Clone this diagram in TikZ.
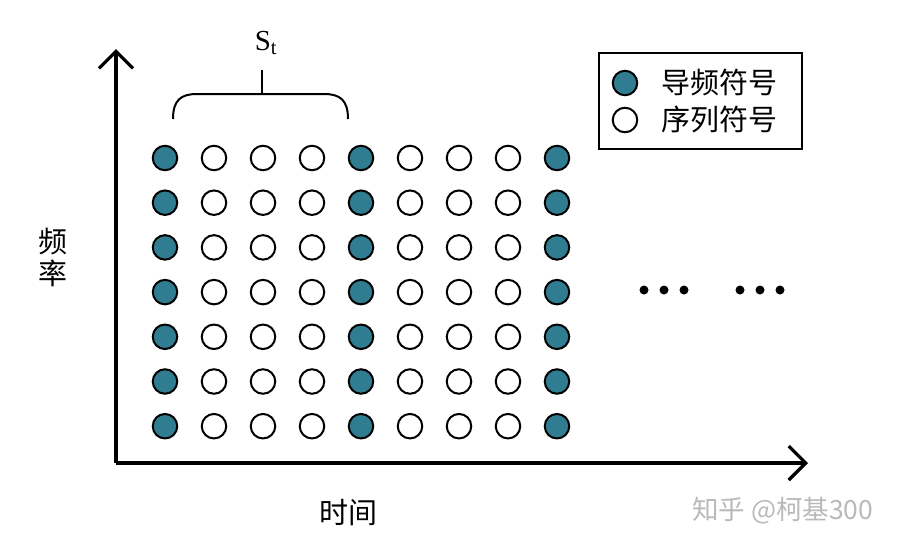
\documentclass[tikz,border=0pt]{standalone}
\usepackage{fontspec}
\setmainfont{Liberation Serif}
\newfontfamily\cjk{Noto Sans CJK SC}
\usetikzlibrary{arrows.meta}
\definecolor{pilot}{RGB}{48,125,145}
\definecolor{wm}{RGB}{185,185,185}
\tikzset{
  sym/.style={circle,draw=black,line width=2pt,minimum size=24.5pt,inner sep=0pt},
  pilotsym/.style={sym,fill=pilot},
  datasym/.style={sym,fill=white},
  axis/.style={line width=3.2pt,-{Straight Barb[length=17pt,width=34pt]}},
  dot/.style={circle,fill=black,minimum size=9pt,inner sep=0pt},
  cjklabel/.style={font=\cjk\fontsize{29}{31}\selectfont,inner sep=0pt},
}
\begin{document}
\begin{tikzpicture}[x=1pt,y=-1pt]
\useasboundingbox (0,0) rectangle (900,547);
% axes
\coordinate (o) at (116,463);
\coordinate (ytop) at (116,49);
\coordinate (xend) at (808,463);
\draw[axis] (o) -- (ytop);
\draw[axis] (o) -- (xend);
% grid of symbols
\foreach \i in {0,...,8}{
  \foreach \j in {0,...,6}{
    \pgfmathtruncatemacro{\m}{mod(\i,4)}
    \ifnum\m=0
      \node[pilotsym] (c-\i-\j) at ({165+49*\i},{158+44.7*\j}) {};
    \else
      \node[datasym] (c-\i-\j) at ({165+49*\i},{158+44.7*\j}) {};
    \fi
  }
}
% dots
\foreach \k/\x in {1/644,2/664,3/684,4/740,5/760,6/780}{
  \node[dot] (d\k) at (\x,290) {};
}
% brace
\coordinate (bl) at (173,119);
\coordinate (br) at (348,119);
\coordinate (bm) at (262,94);
\coordinate (bt) at (262,70);
\draw[line width=2pt] (bl) .. controls (173,100) and (181,94) .. (197,94) -- (324,94) .. controls (340,94) and (348,100) .. (br);
\draw[line width=2pt] (bm) -- (bt);
\node[font=\fontsize{29}{31}\selectfont,inner sep=0pt] (st) at (266,43) {S$_{\mathrm{t}}$};
% legend
\node[draw=black,line width=2pt,minimum width=203pt,minimum height=96pt,inner sep=0pt] (leg) at (700.5,101) {};
\node[pilotsym] (lp) at (625,83) {};
\node[datasym] (ld) at (625,120) {};
\node[cjklabel,anchor=west] (tp) at (661,82) {导频符号};
\node[cjklabel,anchor=west] (td) at (661,119) {序列符号};
% axis labels
\node[cjklabel] (f1) at (53,242) {频};
\node[cjklabel] (f2) at (53,273) {率};
\node[cjklabel] (time) at (348,513) {时间};
% watermark
\node[font=\cjk\fontsize{26.5}{28}\selectfont,text=wm,inner sep=0pt,anchor=west] (wmk) at (692,511) {知乎 @柯基300};
\end{tikzpicture}
\end{document}
